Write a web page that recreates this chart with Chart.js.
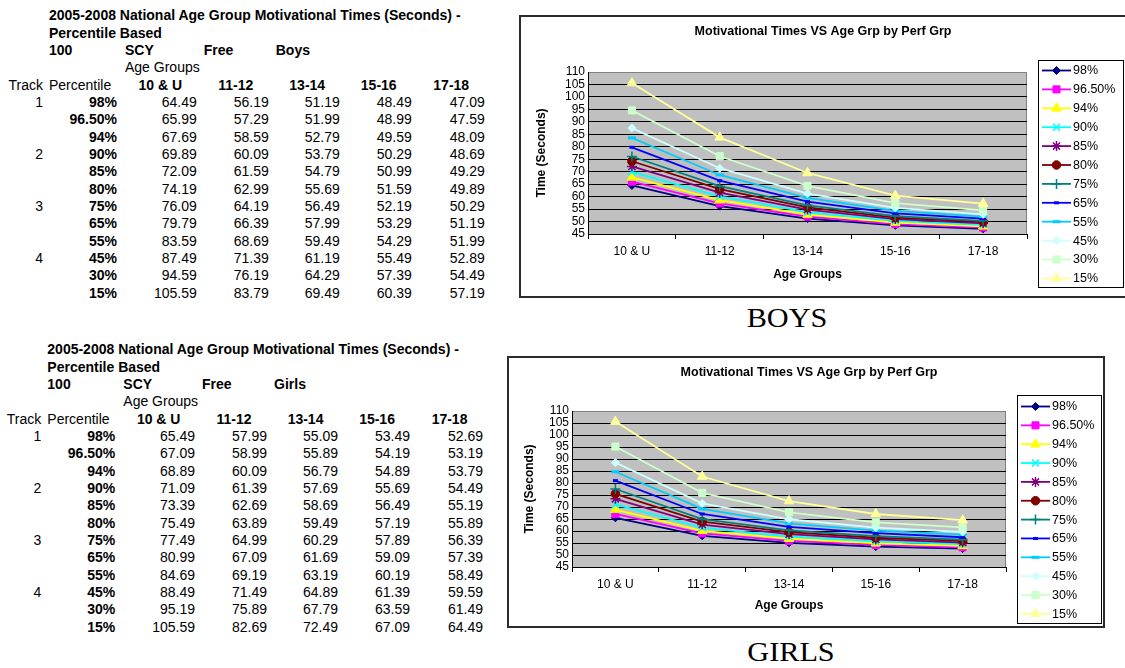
<!DOCTYPE html>
<html>
<head>
<meta charset="utf-8">
<script src="https://cdn.jsdelivr.net/npm/chart.js@4.4.0/dist/chart.umd.min.js"></script>
<style>
body { margin:0; width:1125px; height:668px; overflow:hidden; background:#fff; position:relative; font-family:"Liberation Sans", Arial, sans-serif; color:#000; }
.tbl { position:absolute; border-collapse:collapse; table-layout:fixed; font-size:14px; }
.tbl tr { height:17.35px; }
.tbl td { padding:0; height:17.35px; line-height:17.35px; white-space:nowrap; overflow:visible; }
.tbl .b { font-weight:bold; }
.tbl .l { text-align:left; padding-left:3px; }
.tbl .L { text-align:left; padding-left:4px; }
.tbl .r { text-align:right; padding-right:3px; }
.tbl .rp { text-align:right; padding-right:4px; }
.tbl .c { text-align:center; }
.chartBox { position:absolute; border:2px solid #2b2b2b; background:#fff; }
.chartBox canvas { display:block; }
.caption { position:absolute; width:200px; height:30px; line-height:30px; text-align:center;
  font-family:"Liberation Serif","Times New Roman",serif; font-size:27px; transform:scaleX(1.12); }
</style>
</head>
<body>
<div class="chartBox" style="left:519px; top:15px;"><canvas id="boysChart" width="608" height="279"></canvas></div>
<div class="chartBox" style="left:507px; top:356px;"><canvas id="girlsChart" width="594" height="268"></canvas></div>
<div class="caption" style="left:687px; top:303px;">BOYS</div>
<div class="caption" style="left:691px; top:637px;">GIRLS</div>
<script>
const ageGroups = ["10 & U", "11-12", "13-14", "15-16", "17-18"];
const percentiles = ["98%", "96.50%", "94%", "90%", "85%", "80%", "75%", "65%", "55%", "45%", "30%", "15%"];
const tracks = ["1", "", "", "2", "", "", "3", "", "", "4", "", ""];
const yTicks = { min: 45, max: 110, step: 5 };

const boysTimes = [
  [64.49, 56.19, 51.19, 48.49, 47.09],
  [65.99, 57.29, 51.99, 48.99, 47.59],
  [67.69, 58.59, 52.79, 49.59, 48.09],
  [69.89, 60.09, 53.79, 50.29, 48.69],
  [72.09, 61.59, 54.79, 50.99, 49.29],
  [74.19, 62.99, 55.69, 51.59, 49.89],
  [76.09, 64.19, 56.49, 52.19, 50.29],
  [79.79, 66.39, 57.99, 53.29, 51.19],
  [83.59, 68.69, 59.49, 54.29, 51.99],
  [87.49, 71.39, 61.19, 55.49, 52.89],
  [94.59, 76.19, 64.29, 57.39, 54.49],
  [105.59, 83.79, 69.49, 60.39, 57.19]
];
const girlsTimes = [
  [65.49, 57.99, 55.09, 53.49, 52.69],
  [67.09, 58.99, 55.89, 54.19, 53.19],
  [68.89, 60.09, 56.79, 54.89, 53.79],
  [71.09, 61.39, 57.69, 55.69, 54.49],
  [73.39, 62.69, 58.69, 56.49, 55.19],
  [75.49, 63.89, 59.49, 57.19, 55.89],
  [77.49, 64.99, 60.29, 57.89, 56.39],
  [80.99, 67.09, 61.69, 59.09, 57.39],
  [84.69, 69.19, 63.19, 60.19, 58.49],
  [88.49, 71.49, 64.89, 61.39, 59.59],
  [95.19, 75.89, 67.79, 63.59, 61.49],
  [105.59, 82.69, 72.49, 67.09, 64.49]
];

const titleLine1 = "2005-2008 National Age Group Motivational Times (Seconds) -";
const titleLine2 = "Percentile Based";
const chartTitle = "Motivational Times VS Age Grp by Perf Grp";

// excel-ish series looks
const looks = [
  { color: "#000080", style: "rectRot", r: 4, bw: 1 },
  { color: "#FF00FF", style: "rect", r: 5, bw: 1 },
  { color: "#FFFF00", style: "triangle", r: 5.5, bw: 1 },
  { color: "#00FFFF", style: "crossRot", r: 5, bw: 1.5 },
  { color: "#800080", style: "star", r: 5, bw: 1.5 },
  { color: "#800000", style: "circle", r: 4.3, bw: 1 },
  { color: "#008080", style: "cross", r: 5, bw: 1.5 },
  { color: "#0000FF", style: "line", r: 2.5, bw: 3 },
  { color: "#00CCFF", style: "line", r: 4, bw: 3 },
  { color: "#CCFFFF", style: "rectRot", r: 4, bw: 1 },
  { color: "#CCFFCC", style: "rect", r: 5, bw: 1 },
  { color: "#FFFF99", style: "triangle", r: 5.5, bw: 1 }
];

function buildTable(times, gender, left, top) {
  let t = document.createElement("table");
  t.className = "tbl";
  t.style.left = left + "px";
  t.style.top = top + "px";
  let cg = document.createElement("colgroup");
  [46, 75, 72, 72, 71, 72, 73].forEach(function (w) {
    let col = document.createElement("col");
    col.style.width = w + "px";
    cg.appendChild(col);
  });
  t.appendChild(cg);
  let body = document.createElement("tbody");
  function row(cells) {
    let tr = document.createElement("tr");
    cells.forEach(function (c) {
      let td = document.createElement("td");
      td.textContent = c.t;
      if (c.cls) td.className = c.cls;
      if (c.span) td.colSpan = c.span;
      tr.appendChild(td);
    });
    body.appendChild(tr);
  }
  row([{ t: "" }, { t: titleLine1, cls: "b l", span: 6 }]);
  row([{ t: "" }, { t: titleLine2, cls: "b l", span: 6 }]);
  row([{ t: "" }, { t: "100", cls: "b l" }, { t: "SCY", cls: "b L" }, { t: "Free", cls: "b L" }, { t: gender, cls: "b L" }, { t: "" }, { t: "" }]);
  row([{ t: "" }, { t: "" }, { t: "Age Groups", cls: "L" }, { t: "" }, { t: "" }, { t: "" }, { t: "" }]);
  row([{ t: "Track", cls: "r" }, { t: "Percentile", cls: "l" }].concat(ageGroups.map(function (a) { return { t: a, cls: "b c" }; })));
  percentiles.forEach(function (p, i) {
    row([{ t: tracks[i], cls: "r" }, { t: p, cls: "b rp" }].concat(times[i].map(function (v) { return { t: v.toFixed(2), cls: "r" }; })));
  });
  t.appendChild(body);
  document.body.appendChild(t);
}

buildTable(boysTimes, "Boys", 0, 7.3);
buildTable(girlsTimes, "Girls", -1.7, 341.3);

Chart.defaults.font.family = '"Liberation Sans", Arial, sans-serif';
Chart.defaults.color = "#000";

// plot area fill + title + boxed legend like the spreadsheet chart
const excelLook = {
  id: "excelLook",
  beforeDraw(chart) {
    let ctx = chart.ctx;
    let a = chart.chartArea;
    ctx.save();
    ctx.fillStyle = "#c0c0c0";
    ctx.fillRect(a.left, a.top, a.right - a.left, a.bottom - a.top);
    ctx.strokeStyle = "#808080";
    ctx.lineWidth = 1;
    ctx.strokeRect(Math.round(a.left) + 0.5, Math.round(a.top) + 0.5, Math.round(a.right - a.left) - 1, Math.round(a.bottom - a.top));
    ctx.restore();
  },
  afterDraw(chart, args, o) {
    let ctx = chart.ctx;
    ctx.save();
    ctx.fillStyle = "#000";
    ctx.font = 'bold 12.5px "Liberation Sans", Arial, sans-serif';
    ctx.textAlign = "center";
    ctx.textBaseline = "middle";
    ctx.fillText(o.title, o.titleX, o.titleY);

    let lx = Math.round(chart.chartArea.right + o.gap);
    ctx.strokeStyle = "#000";
    ctx.lineWidth = 1;
    ctx.strokeRect(lx + 0.5, o.legendTop + 0.5, o.legendW, o.legendH);
    ctx.font = '12.5px "Liberation Sans", Arial, sans-serif';
    ctx.textAlign = "left";
    chart.data.datasets.forEach(function (ds, i) {
      let y = o.legendTop + o.firstRow + i * o.rowH;
      ctx.strokeStyle = ds.borderColor;
      ctx.lineWidth = ds.borderWidth;
      ctx.beginPath();
      ctx.moveTo(lx + 4, y);
      ctx.lineTo(lx + 33, y);
      ctx.stroke();
      ctx.fillStyle = ds.pointBackgroundColor;
      ctx.strokeStyle = ds.pointBorderColor;
      ctx.lineWidth = ds.pointBorderWidth;
      Chart.helpers.drawPoint(ctx, { pointStyle: ds.pointStyle, radius: ds.pointRadius, borderWidth: ds.pointBorderWidth, rotation: 0 }, lx + 18.5, y);
      ctx.fillStyle = "#000";
      ctx.fillText(ds.label, lx + 35, y + 0.5);
    });
    ctx.restore();
  }
};

function makeChart(id, times, box) {
  let datasets = percentiles.map(function (p, i) {
    return {
      label: p,
      data: times[i],
      borderColor: looks[i].color,
      backgroundColor: looks[i].color,
      pointBackgroundColor: looks[i].color,
      pointBorderColor: looks[i].color,
      pointStyle: looks[i].style,
      pointRadius: looks[i].r,
      pointBorderWidth: looks[i].bw,
      borderWidth: 1.8,
      tension: 0,
      order: percentiles.length - i
    };
  });
  return new Chart(document.getElementById(id), {
    type: "line",
    data: { labels: ageGroups, datasets: datasets },
    plugins: [excelLook],
    options: {
      responsive: false,
      animation: false,
      devicePixelRatio: 1,
      layout: { padding: box.padding },
      plugins: {
        legend: { display: false },
        title: { display: false },
        tooltip: { enabled: false },
        excelLook: box.look
      },
      scales: {
        x: {
          type: "category",
          offset: true,
          afterFit: function (s) { s.height = 52; },
          grid: { drawOnChartArea: false, drawTicks: true, tickLength: 5, color: "#000", offset: true },
          border: { color: "#000", width: 1 },
          ticks: { font: { size: 12 }, padding: 5, maxRotation: 0, autoSkip: false },
          title: { display: true, text: "Age Groups", font: { size: 12, weight: "bold" }, padding: { top: 0, bottom: box.xTitlePad } }
        },
        y: {
          min: yTicks.min,
          max: yTicks.max,
          afterFit: function (s) { s.width = box.yWidth; },
          grid: {
            drawTicks: false,
            lineWidth: 1,
            color: function (c) { return c.tick && c.tick.value === yTicks.max ? "#808080" : "#000"; }
          },
          border: { color: "#000", width: 1 },
          ticks: { stepSize: yTicks.step, autoSkip: false, padding: 3, font: { size: 12 } },
          title: { display: true, text: "Time (Seconds)", font: { size: 12, weight: "bold" }, padding: { top: 13.8, bottom: 0 } }
        }
      }
    }
  });
}

makeChart("boysChart", boysTimes, {
  padding: { top: 55, right: 102, bottom: 10, left: 0 },
  yWidth: 67,
  xTitlePad: 3.8,
  look: { title: chartTitle, titleX: 302, titleY: 15, gap: 11, legendTop: 43, legendW: 85, legendH: 227, firstRow: 10.5, rowH: 18.9 }
});
makeChart("girlsChart", girlsTimes, {
  padding: { top: 53, right: 97, bottom: 7, left: 0 },
  yWidth: 63,
  xTitlePad: 6.1,
  look: { title: chartTitle, titleX: 300, titleY: 15, gap: 10.7, legendTop: 37, legendW: 84, legendH: 228, firstRow: 11.5, rowH: 18.85 }
});
</script>
</body>
</html>
